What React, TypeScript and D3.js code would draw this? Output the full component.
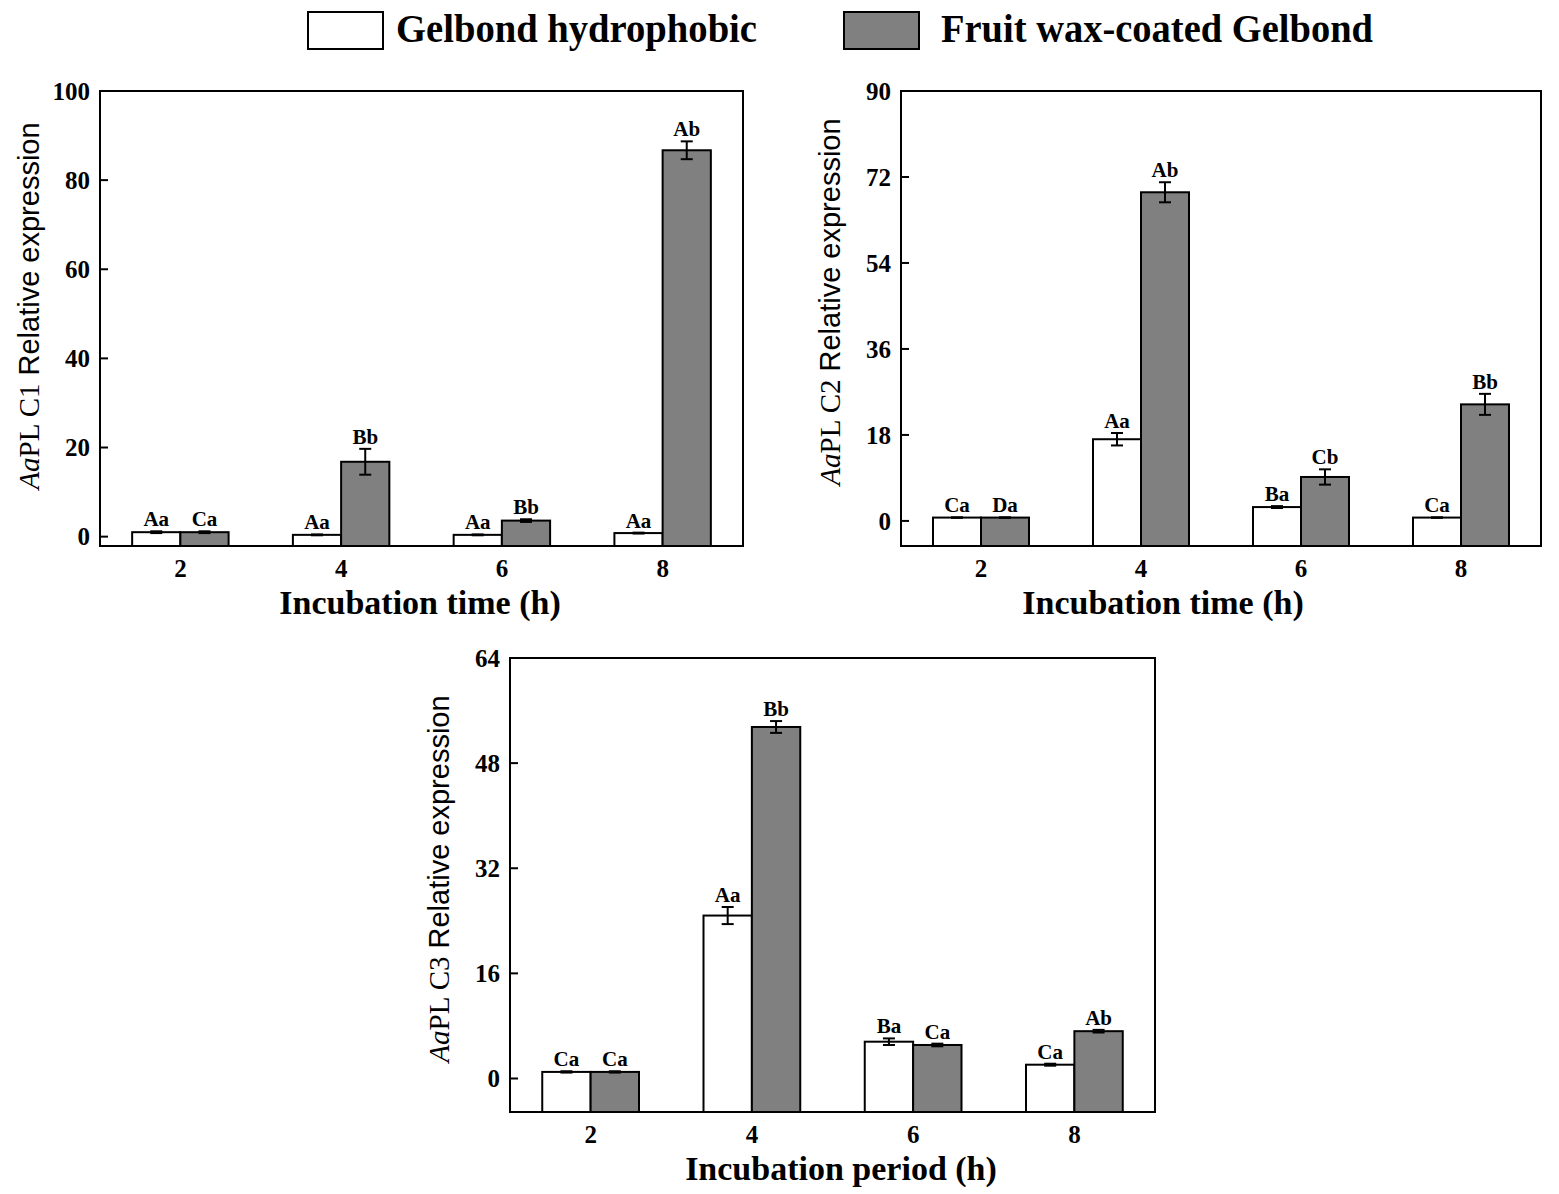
import React from "react";
import * as d3 from "d3";

// incubation times (h)
const TIMES = ["2", "4", "6", "8"];
const SERIES_LABELS = ["Gelbond hydrophobic", "Fruit wax-coated Gelbond"];

// AaPLC1
const PLC1_HYDRO = [1.0, 0.4, 0.4, 0.8];
const PLC1_HYDRO_ERR = [0.2, 0.1, 0.1, 0.1];
const PLC1_HYDRO_SIG = ["Aa", "Aa", "Aa", "Aa"];
const PLC1_WAX = [1.0, 16.8, 3.6, 86.7];
const PLC1_WAX_ERR = [0.2, 2.9, 0.3, 2.0];
const PLC1_WAX_SIG = ["Ca", "Bb", "Bb", "Ab"];
const PLC1_TICKS = [0, 20, 40, 60, 80, 100];

// AaPLC2
const PLC2_HYDRO = [0.7, 17.1, 2.9, 0.7];
const PLC2_HYDRO_ERR = [0.05, 1.3, 0.2, 0.05];
const PLC2_HYDRO_SIG = ["Ca", "Aa", "Ba", "Ca"];
const PLC2_WAX = [0.7, 68.8, 9.2, 24.4];
const PLC2_WAX_ERR = [0.05, 2.1, 1.6, 2.2];
const PLC2_WAX_SIG = ["Da", "Ab", "Cb", "Bb"];
const PLC2_TICKS = [0, 18, 36, 54, 72, 90];

// AaPLC3
const PLC3_HYDRO = [1.0, 24.8, 5.6, 2.1];
const PLC3_HYDRO_ERR = [0.1, 1.3, 0.5, 0.15];
const PLC3_HYDRO_SIG = ["Ca", "Aa", "Ba", "Ca"];
const PLC3_WAX = [1.0, 53.5, 5.1, 7.2];
const PLC3_WAX_ERR = [0.1, 0.9, 0.2, 0.2];
const PLC3_WAX_SIG = ["Ca", "Bb", "Ca", "Ab"];
const PLC3_TICKS = [0, 16, 32, 48, 64];

const SERIF = "'Liberation Serif', 'Times New Roman', serif";
const SANS = "'Liberation Sans', Arial, sans-serif";
const GREY = "#808080";
const FILLS = ["#ffffff", GREY];

interface PanelProps {
  left: number;
  top: number;
  width: number;
  height: number;
  yMin: number;
  ticks: number[];
  gene: string;
  xTitle: string;
  xTitleCx: number;
  yLabelCy: number;
  values: number[][];
  errors: number[][];
  sigs: string[][];
}

function Panel(p: PanelProps) {
  const yMax = p.ticks[p.ticks.length - 1];
  const x = d3.scaleBand<string>().domain(TIMES).range([0, p.width]).paddingInner(0.4).paddingOuter(0.2);
  const inner = d3.scaleBand<number>().domain([0, 1]).range([0, x.bandwidth()]);
  const y = d3.scaleLinear().domain([p.yMin, yMax]).range([p.height, 0]);

  return (
    <g transform={`translate(${p.left},${p.top})`}>
      {/* bars */}
      {p.values.map((series, si) =>
        series.map((v, i) => {
          const bx = (x(TIMES[i]) || 0) + (inner(si) || 0);
          const bw = inner.bandwidth();
          const cx = bx + bw / 2;
          const err = p.errors[si][i];
          const errTop = y(v + err);
          return (
            <g key={`${si}-${i}`}>
              <rect x={bx} y={y(v)} width={bw} height={p.height - y(v)} fill={FILLS[si]} stroke="#000" strokeWidth={2} />
              <line x1={cx} x2={cx} y1={errTop} y2={y(v - err)} stroke="#000" strokeWidth={2} />
              <line x1={cx - 6} x2={cx + 6} y1={errTop} y2={errTop} stroke="#000" strokeWidth={2} />
              <line x1={cx - 6} x2={cx + 6} y1={y(v - err)} y2={y(v - err)} stroke="#000" strokeWidth={2} />
              <text x={cx} y={Math.min(errTop, y(v)) - 5} fontFamily={SERIF} fontWeight="bold" fontSize={21} textAnchor="middle">
                {p.sigs[si][i]}
              </text>
            </g>
          );
        })
      )}

      {/* frame */}
      <rect x={0} y={0} width={p.width} height={p.height} fill="none" stroke="#000" strokeWidth={2} />

      {/* y ticks */}
      {p.ticks.map((t) => (
        <g key={t}>
          <line x1={0} x2={8} y1={y(t)} y2={y(t)} stroke="#000" strokeWidth={2} />
          <text x={-10} y={y(t)} dy="0.35em" fontFamily={SERIF} fontWeight="bold" fontSize={25} textAnchor="end">
            {t}
          </text>
        </g>
      ))}

      {/* x tick labels */}
      {TIMES.map((t) => (
        <text key={t} x={(x(t) || 0) + x.bandwidth() / 2} y={p.height + 31} fontFamily={SERIF} fontWeight="bold" fontSize={25} textAnchor="middle">
          {t}
        </text>
      ))}

      {/* x title */}
      <text x={p.xTitleCx - p.left} y={p.height + 68} fontFamily={SERIF} fontWeight="bold" fontSize={34} textAnchor="middle">
        {p.xTitle}
      </text>

      {/* y title */}
      <text transform={`translate(-61,${p.yLabelCy - p.top}) rotate(-90)`} fontSize={29} textAnchor="middle">
        <tspan fontFamily={SERIF} fontStyle="italic">Aa</tspan>
        <tspan fontFamily={SERIF}>{`PL C${p.gene}`}</tspan>
        <tspan fontFamily={SANS}> Relative expression</tspan>
      </text>
    </g>
  );
}

export default function App() {
  return (
    <svg width={1559} height={1194} style={{ position: "absolute", left: 0, top: 0, background: "#fff" }}>
      {/* legend */}
      <rect x={308} y={12} width={75} height={37} fill={FILLS[0]} stroke="#000" strokeWidth={2} />
      <text x={396} y={42} fontFamily={SERIF} fontWeight="bold" fontSize={41} textLength={361} lengthAdjust="spacingAndGlyphs">
        {SERIES_LABELS[0]}
      </text>
      <rect x={844} y={12} width={75} height={37} fill={FILLS[1]} stroke="#000" strokeWidth={2} />
      <text x={941} y={42} fontFamily={SERIF} fontWeight="bold" fontSize={41} textLength={432} lengthAdjust="spacingAndGlyphs">
        {SERIES_LABELS[1]}
      </text>

      <Panel
        left={100} top={91} width={643} height={455} yMin={-2.1} ticks={PLC1_TICKS} gene="1"
        xTitle="Incubation time (h)" xTitleCx={420} yLabelCy={306}
        values={[PLC1_HYDRO, PLC1_WAX]} errors={[PLC1_HYDRO_ERR, PLC1_WAX_ERR]} sigs={[PLC1_HYDRO_SIG, PLC1_WAX_SIG]}
      />
      <Panel
        left={901} top={91} width={640} height={455} yMin={-5.25} ticks={PLC2_TICKS} gene="2"
        xTitle="Incubation time (h)" xTitleCx={1163} yLabelCy={302}
        values={[PLC2_HYDRO, PLC2_WAX]} errors={[PLC2_HYDRO_ERR, PLC2_WAX_ERR]} sigs={[PLC2_HYDRO_SIG, PLC2_WAX_SIG]}
      />
      <Panel
        left={510} top={658} width={645} height={454} yMin={-5.1} ticks={PLC3_TICKS} gene="3"
        xTitle="Incubation period (h)" xTitleCx={841} yLabelCy={879}
        values={[PLC3_HYDRO, PLC3_WAX]} errors={[PLC3_HYDRO_ERR, PLC3_WAX_ERR]} sigs={[PLC3_HYDRO_SIG, PLC3_WAX_SIG]}
      />
    </svg>
  );
}
